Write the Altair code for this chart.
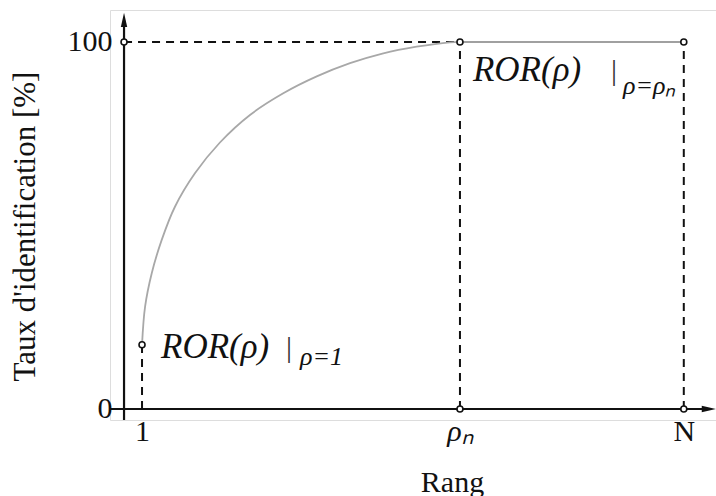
import altair as alt
import pandas as pd

# Cumulative identification curve (rank -> identification rate in %)
rank_curve = [1, 1.17, 1.54, 2.09, 2.83, 3.94, 5.33, 7.0, 8.85, 10.71, 12.56, 14.41, 16.26, 18.11, 18.67]
rate_curve = [17.5, 27.9, 37.0, 46.0, 55.1, 64.2, 72.6, 80.1, 86.0, 90.6, 94.2, 96.9, 98.7, 99.9, 100]

RHO_N = 18.67
N_MAX = 31.11

# Plateau after rank rho_n
plateau_rank = [RHO_N, N_MAX]
plateau_rate = [100, 100]

# Tick positions and labels
rank_ticks = [1, RHO_N, N_MAX]
rank_tick_labels = ["1", "ρₙ", "N"]
rate_ticks = [0, 100]
rate_tick_labels = ["0", "100"]

# Open circle markers
marker_rank = [0, 1, RHO_N, N_MAX, RHO_N, N_MAX]
marker_rate = [100, 17.5, 100, 100, 0, 0]

# Dashed guide segments
guide_rank = [0, 1, RHO_N, N_MAX]
guide_rank2 = [RHO_N, 1, RHO_N, N_MAX]
guide_rate = [100, 0, 0, 0]
guide_rate2 = [100, 17.5, 100, 100]

# Axis extents (with arrow heads)
X_MIN, X_MAX = -0.78, 32.9
Y_MIN, Y_MAX = -3.0, 108.7
x_arrow_end = 32.5
y_arrow_end = 106.0

X_SCALE = alt.Scale(domain=[X_MIN, X_MAX], nice=False, zero=False)
Y_SCALE = alt.Scale(domain=[Y_MIN, Y_MAX], nice=False, zero=False)

INK = "#111111"
SERIF = "Liberation Serif"


def label_expr(values, labels):
    expr = "''"
    for v, l in reversed(list(zip(values, labels))):
        expr = f"abs(datum.value - {v}) < 0.001 ? '{l}' : {expr}"
    return expr


X_AXIS = alt.Axis(
    values=rank_ticks, labelExpr=label_expr(rank_ticks, rank_tick_labels),
    title="Rang", grid=False, domain=False, ticks=False, labelOverlap=False,
    labelFont=SERIF, labelFontSize=30, labelColor=INK, labelPadding=-4,
    labelFontStyle={"condition": {"test": f"abs(datum.value - {RHO_N}) < 0.001",
                                  "value": "italic"}, "value": "normal"},
    titleFont=SERIF, titleFontSize=30, titleFontWeight="normal", titleColor=INK,
    titleX=342, titleY=62, titleAlign="center", titleBaseline="middle",
)
Y_AXIS = alt.Axis(
    values=rate_ticks, labelExpr=label_expr(rate_ticks, rate_tick_labels),
    title="Taux d'identification [%]", grid=False, domain=False, ticks=False,
    labelOverlap=False, labelFont=SERIF, labelFontSize=30, labelColor=INK,
    labelPadding=-2, labelBaseline="middle",
    titleFont=SERIF, titleFontSize=31, titleFontWeight="normal", titleColor=INK,
    titleX=-85, titleY=216, titleAlign="center", titleBaseline="middle",
)


def X(field):
    return alt.X(field, type="quantitative", scale=X_SCALE, axis=X_AXIS)


def Y(field):
    return alt.Y(field, type="quantitative", scale=Y_SCALE, axis=Y_AXIS)


curve_df = pd.DataFrame({"rank": rank_curve, "rate": rate_curve})
plateau_df = pd.DataFrame({"rank": plateau_rank, "rate": plateau_rate})
marker_df = pd.DataFrame({"rank": marker_rank, "rate": marker_rate})
guide_df = pd.DataFrame({"rank": guide_rank, "rank2": guide_rank2,
                         "rate": guide_rate, "rate2": guide_rate2})

x_axis_df = pd.DataFrame({"rank": [X_MIN], "rank2": [x_arrow_end], "rate": [0]})
y_axis_df = pd.DataFrame({"rank": [0], "rate": [Y_MIN], "rate2": [y_arrow_end]})

x_axis_line = alt.Chart(x_axis_df).mark_rule(color=INK, strokeWidth=2.2).encode(
    x=X("rank"), x2="rank2", y=Y("rate"))
y_axis_line = alt.Chart(y_axis_df).mark_rule(color=INK, strokeWidth=2.2).encode(
    x=X("rank"), y=Y("rate"), y2="rate2")

x_arrow = alt.Chart(pd.DataFrame({"rank": [x_arrow_end], "rate": [0]})).mark_point(
    shape="M1,0L-1,0.45L-1,-0.45Z", size=200, filled=True, color=INK, opacity=1
).encode(x=X("rank"), y=Y("rate"))
y_arrow = alt.Chart(pd.DataFrame({"rank": [0], "rate": [y_arrow_end]})).mark_point(
    shape="M0,-1L0.45,1L-0.45,1Z", size=200, filled=True, color=INK, opacity=1
).encode(x=X("rank"), y=Y("rate"))

guides = alt.Chart(guide_df).mark_rule(
    color=INK, strokeWidth=2, strokeDash=[8, 6]
).encode(x=X("rank"), x2="rank2", y=Y("rate"), y2="rate2")

curve = alt.Chart(curve_df).mark_line(
    color="#a8a8a8", strokeWidth=1.8, interpolate="catmull-rom"
).encode(x=X("rank"), y=Y("rate"))

plateau = alt.Chart(plateau_df).mark_line(color="#808080", strokeWidth=1.6).encode(
    x=X("rank"), y=Y("rate"))

markers = alt.Chart(marker_df).mark_point(
    shape="circle", size=36, filled=True, fill="white", stroke=INK,
    strokeWidth=1.6, opacity=1
).encode(x=X("rank"), y=Y("rate"))


def annotation(rank, rate, sub, dx, dy, bar_dx, sub_dx, sub_dy):
    """ROR(rho) evaluated at a given rank: main text, evaluation bar, subscript."""
    df = pd.DataFrame({"rank": [rank], "rate": [rate]})
    base = alt.Chart(df)
    main = base.mark_text(
        text="ROR(ρ)", font=SERIF, fontStyle="italic", fontSize=35, color=INK,
        align="left", baseline="middle", dx=dx, dy=dy
    ).encode(x=X("rank"), y=Y("rate"))
    bar = base.mark_text(
        text="|", font=SERIF, fontSize=30, color="#333333",
        align="left", baseline="middle", dx=bar_dx, dy=dy + 1
    ).encode(x=X("rank"), y=Y("rate"))
    subscript = base.mark_text(
        text=sub, font=SERIF, fontStyle="italic", fontSize=26, color=INK,
        align="left", baseline="middle", dx=sub_dx, dy=dy + sub_dy
    ).encode(x=X("rank"), y=Y("rate"))
    return main + bar + subscript


ann_first = annotation(1, 17.5, "ρ=1", 19, 2, 144, 158, 10)
ann_last = annotation(RHO_N, 100, "ρ=ρₙ", 13, 28, 151, 163, 16)

chart = alt.layer(
    x_axis_line, y_axis_line, x_arrow, y_arrow, guides, curve, plateau,
    markers, ann_first, ann_last
).properties(
    width=606, height=410,
    autosize=alt.AutoSizeParams(type="none"),
    padding={"left": 110, "top": 10, "right": 0, "bottom": 76},
).configure_view(stroke=None).configure(background="white")

chart.save("out.html", embed_options={"renderer": "svg", "actions": False})
